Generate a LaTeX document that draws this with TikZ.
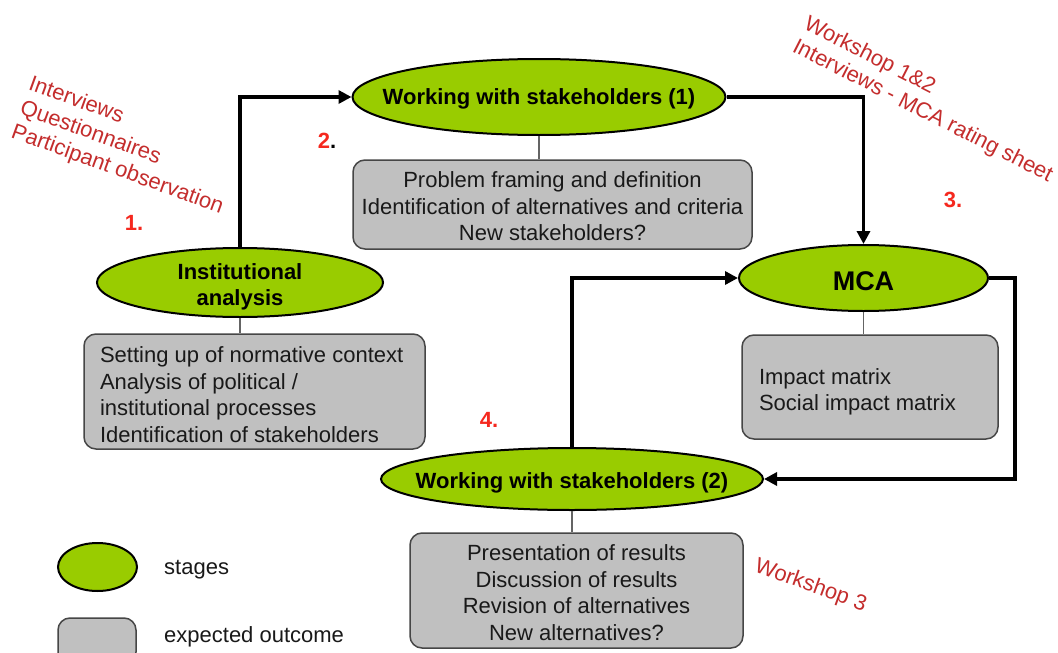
\documentclass[tikz,border=0pt]{standalone}
\usepackage{fontspec}
\setmainfont{Liberation Sans}
\usetikzlibrary{shapes.geometric,arrows.meta}
\definecolor{stagegreen}{RGB}{153,204,0}
\definecolor{boxgray}{RGB}{192,192,192}
\definecolor{boxline}{RGB}{70,70,70}
\definecolor{linkgray}{RGB}{100,100,100}
\definecolor{annotred}{RGB}{196,45,45}
\definecolor{numred}{RGB}{245,40,30}
\definecolor{txt}{RGB}{25,25,25}
\newcommand\lowertext[3]{\raisebox{-#1}[\height][\depth]{\parbox{#2}{#3}}}
\tikzset{
  stage/.style={ellipse, draw=black, line width=2pt, fill=stagegreen, inner sep=0pt},
  stagetext/.style={font=\fontsize{22}{26}\selectfont\bfseries, text=black, align=center, inner sep=0pt, yshift=-4pt},
  outcome/.style={rectangle, rounded corners=12pt, draw=boxline, line width=1.5pt, fill=boxgray, inner sep=0pt, font=\fontsize{22}{26.5}\selectfont, text=txt},
  link/.style={draw=linkgray, line width=1.8pt},
  flow/.style={draw=black, line width=3.5pt, -{Triangle[length=13pt,width=13pt]}},
  annot/.style={font=\fontsize{22}{25.5}\selectfont, text=annotred, align=left, inner sep=0pt, anchor=north west},
  stepnum/.style={font=\fontsize{22}{26}\selectfont\bfseries, text=numred, inner sep=0pt},
  legendtext/.style={font=\fontsize{22}{26}\selectfont, text=txt, anchor=west, inner sep=0pt}
}
\begin{document}
\begin{tikzpicture}[x=1pt,y=-1pt]
\fill[white] (0,0) rectangle (1058,653);
\useasboundingbox (0,0) rectangle (1058,653);

% stages
\node[stage, minimum width=373pt, minimum height=76pt] (ws1) at (539,97) {};
\node[stagetext, yshift=2pt] (ws1t) at (ws1) {Working with stakeholders (1)};
\node[stage, minimum width=286pt, minimum height=69pt] (inst) at (240,282.5) {};
\node[stagetext] (instt) at (inst) {Institutional\\analysis};
\node[stage, minimum width=249pt, minimum height=66pt] (mca) at (863.5,278) {};
\node[stagetext, font=\fontsize{27}{30}\selectfont\bfseries, yshift=1pt] (mcat) at (mca) {MCA};
\node[stage, minimum width=382pt, minimum height=62pt] (ws2) at (572,479) {};
\node[stagetext] (ws2t) at (ws2) {Working with stakeholders (2)};

% outcomes
\node[outcome, minimum width=399pt, minimum height=89pt] (ws1box) at (552.5,204.5)
  {\lowertext{2pt}{395pt}{\centering Problem framing and definition\\Identification of alternatives and criteria\\New stakeholders?}};
\node[outcome, minimum width=341pt, minimum height=115pt] (instbox) at (254.5,391.5)
  {\lowertext{3pt}{309pt}{Setting up of normative context\\Analysis of political /\\institutional processes\\Identification of stakeholders}};
\node[outcome, minimum width=256pt, minimum height=104pt] (mcabox) at (870,387)
  {\lowertext{5pt}{222pt}{Impact matrix\\Social impact matrix}};
\node[outcome, minimum width=333pt, minimum height=115pt] (ws2box) at (576.5,590.5)
  {\lowertext{2pt}{329pt}{\centering Presentation of results\\Discussion of results\\Revision of alternatives\\New alternatives?}};

% stage-outcome links
\draw[link] (ws1.south) -- (ws1.south |- ws1box.north);
\draw[link] (inst.south) -- (inst.south |- instbox.north);
\draw[link] (mca.south) -- (mca.south |- mcabox.north);
\draw[link] (ws2.south) -- (ws2.south |- ws2box.north);

% flow
\coordinate (loopR) at (1015,479);
\draw[flow] (inst.north) |- (ws1.west);
\draw[flow] (ws1.east) -| (mca.north);
\draw[flow] (mca.east) -| (loopR) -- (ws2.east);
\draw[flow] (ws2.north) |- (mca.west);

% step numbers
\node[stepnum] (n1) at (134,223) {1.};
\node[stepnum] (n2) at (327,141) {2\textcolor{black}{.}};
\node[stepnum] (n3) at (953,200) {3.};
\node[stepnum] (n4) at (489,420) {4.};

% annotations
\node[annot, rotate=-20] (a1) at (33,74) {Interviews\\Questionnaires\\Participant observation};
\node[annot, rotate=-27] (a3) at (810,14) {Workshop 1\&2\\Interviews - MCA rating sheet};
\node[annot, rotate=-20] (a4) at (759,556) {Workshop 3};

% legend
\node[stage, minimum width=79pt, minimum height=48pt] (legstage) at (97.5,567) {};
\node[outcome, minimum width=78pt, minimum height=46pt] (legout) at (97,641) {};
\node[legendtext] (legstaget) at (164,570) {stages};
\node[legendtext] (legoutt) at (164,637) {expected outcome};
\end{tikzpicture}
\end{document}
